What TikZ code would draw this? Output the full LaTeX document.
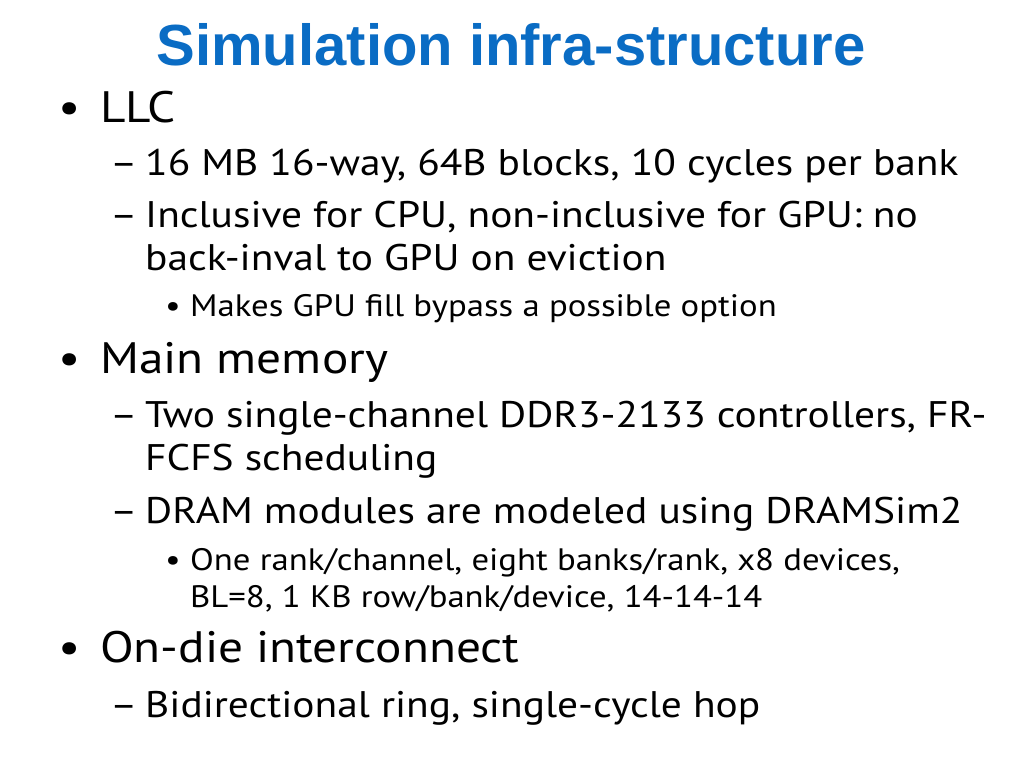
\documentclass[tikz,border=0pt]{standalone}
\usepackage{fontspec}
\setmainfont[FakeStretch=1.12]{PT Sans}
\newfontfamily\titlefont{Liberation Sans}
\definecolor{ttl}{HTML}{0A6CC4}
\begin{document}
\begin{tikzpicture}[x=1pt,y=-1pt,
  every node/.style={anchor=base west,inner sep=0pt},
  lone/.style={font=\fontsize{44}{44}\selectfont},
  ltwo/.style={font=\fontsize{37}{37}\selectfont},
  lthree/.style={font=\fontsize{31}{31}\selectfont}]
\useasboundingbox[fill=white] (0,0) rectangle (1024,768);
\node[anchor=base,font=\titlefont\bfseries\fontsize{58}{58}\selectfont,text=ttl] (t) at (511,65) {Simulation infra-structure};
% level 1
\node[lone] (b1) at (58,122) {•}; \node[lone] (l1) at (100,122) {LLC};
\node[lone] (b2) at (58,373) {•}; \node[lone] (l2) at (100,373) {Main memory};
\node[lone] (b3) at (58,662) {•}; \node[lone] (l3) at (100,662) {On-die interconnect};
% level 2
\foreach \y/\t [count=\i] in {175/{16 MB 16-way, 64B blocks, 10 cycles per bank},
  227/{Inclusive for CPU, non-inclusive for GPU: no},
  427/{Two single-channel DDR3-2133 controllers, FR-},
  523/{DRAM modules are modeled using DRAMSim2},
  717/{Bidirectional ring, single-cycle hop}}{
  \node[ltwo] (d\i) at (110,\y) {–};
  \node[ltwo] (m\i) at (145,\y) {\t};}
\node[ltwo] (c1) at (145,270) {back-inval to GPU on eviction};
\node[ltwo] (c2) at (145,470) {FCFS scheduling};
% level 3
\node[lthree] (e1) at (165,316) {•}; \node[lthree] (n1) at (190,316) {Makes GPU fill bypass a possible option};
\node[lthree] (e2) at (165,570) {•}; \node[lthree] (n2) at (190,570) {One rank/channel, eight banks/rank, x8 devices,};
\node[lthree] (n3) at (190,607) {BL=8, 1 KB row/bank/device, 14-14-14};
\end{tikzpicture}
\end{document}
